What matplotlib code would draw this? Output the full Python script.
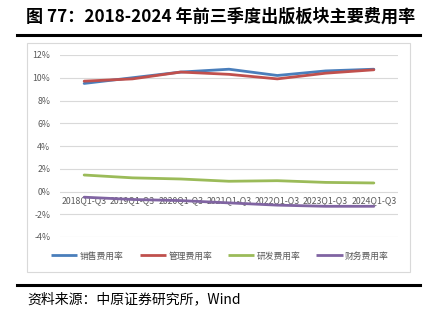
import matplotlib.pyplot as plt
from matplotlib.patches import Rectangle
from matplotlib.lines import Line2D

plt.rcParams['font.family'] = ['Noto Sans CJK SC', 'DejaVu Sans']

periods = ['2018Q1-Q3', '2019Q1-Q3', '2020Q1-Q3', '2021Q1-Q3',
           '2022Q1-Q3', '2023Q1-Q3', '2024Q1-Q3']
sales = [9.5, 10.0, 10.5, 10.75, 10.2, 10.6, 10.75]
admin = [9.7, 9.9, 10.5, 10.3, 9.9, 10.4, 10.7]
rnd = [1.45, 1.2, 1.1, 0.9, 0.95, 0.8, 0.75]
finance = [-0.5, -0.7, -0.8, -1.0, -1.2, -1.3, -1.3]
series_names = ['销售费用率', '管理费用率', '研发费用率', '财务费用率']
colors = ['#4A7EBB', '#C0504D', '#9BBB59', '#8064A2']
yticks = [-4, -2, 0, 2, 4, 6, 8, 10, 12]

W, H = 436, 324
fig = plt.figure(figsize=(W / 100, H / 100), dpi=100)

# title and rules
fig.text(26 / W, 1 - 17 / H, '图 77：2018-2024 年前三季度出版板块主要费用率',
         fontsize=12.3, fontweight='bold', va='center', ha='left')
fig.add_artist(Line2D([17 / W, 420 / W], [1 - 34.5 / H] * 2, color='black', lw=2.2))
fig.add_artist(Line2D([17 / W, 420 / W], [1 - 284.5 / H] * 2, color='black', lw=2.2))
fig.text(27 / W, 1 - 299 / H, '资料来源：中原证券研究所，Wind',
         fontsize=10, va='center', ha='left')

# chart frame
fig.add_artist(Rectangle((27 / W, 1 - 272 / H), 383 / W, 229 / H,
                         transform=fig.transFigure, fill=False,
                         edgecolor='#D9D9D9', lw=0.8))

ax = fig.add_axes([60 / W, 1 - 237 / H, 338 / W, 182 / H])
x = range(len(periods))
for vals, c in zip([sales, admin, rnd, finance], colors):
    ax.plot(x, vals, color=c, lw=2.0, solid_capstyle='round')

ax.set_xlim(-0.5, len(periods) - 0.5)
ax.set_ylim(-4, 12)
ax.set_yticks(yticks)
ax.set_yticklabels([f'{v}%' for v in yticks])
ax.grid(axis='y', color='#D9D9D9', lw=0.8)
ax.set_axisbelow(True)
for s in ax.spines.values():
    s.set_visible(False)
ax.spines['bottom'].set_position(('data', 0))
ax.set_xticks(list(x))
ax.set_xticklabels(periods)
ax.tick_params(axis='both', length=0, labelsize=6.3, labelcolor='#595959')
ax.tick_params(axis='x', pad=3)
ax.tick_params(axis='y', pad=7)

handles = [Line2D([], [], color=c, lw=2.0, solid_capstyle='butt') for c in colors]
fig.legend(handles, series_names, loc='center', bbox_to_anchor=(220 / W, 1 - 256 / H),
           ncol=4, frameon=False, fontsize=6.3, labelcolor='#595959',
           handlelength=3.0, handletextpad=0.3, columnspacing=1.8)

fig.savefig('out.png', dpi=100)
